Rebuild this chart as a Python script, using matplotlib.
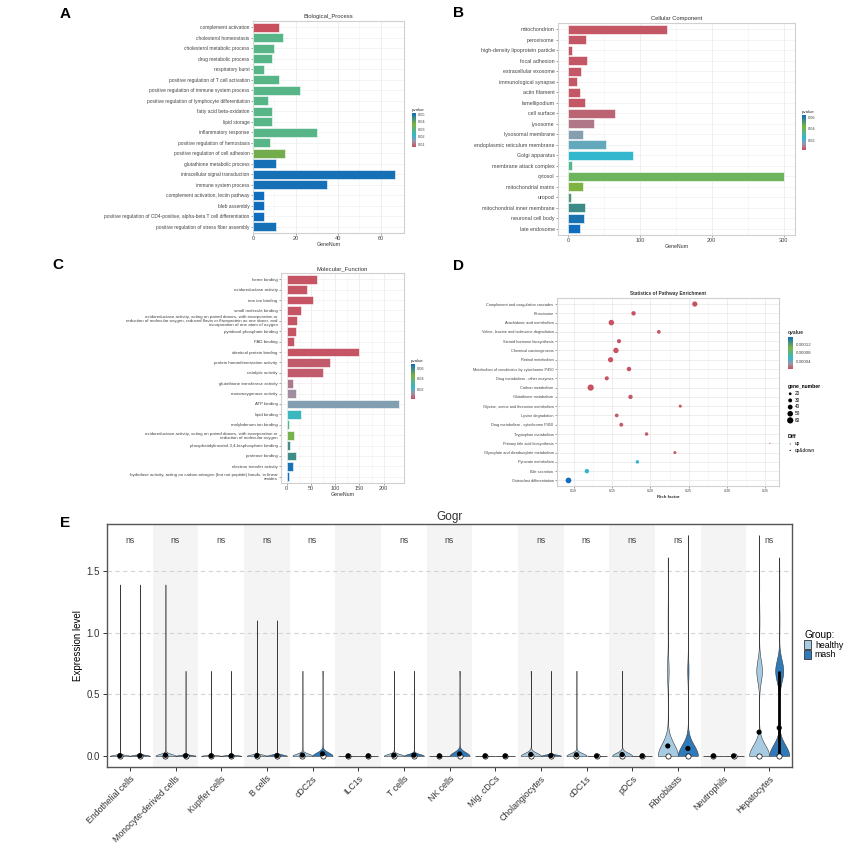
import numpy as np
import matplotlib
matplotlib.use("Agg")
import matplotlib.pyplot as plt
from matplotlib.colors import LinearSegmentedColormap, Normalize
from matplotlib.cm import ScalarMappable
from matplotlib.patches import Patch

plt.rcParams['font.family'] = ['Liberation Sans', 'DejaVu Sans']

# ---- A: GO biological process
bp_terms = ['complement activation', 'cholesterol homeostasis', 'cholesterol metabolic process',
            'drug metabolic process', 'respiratory burst', 'positive regulation of T cell activation',
            'positive regulation of immune system process',
            'positive regulation of lymphocyte differentiation', 'fatty acid beta-oxidation',
            'lipid storage', 'inflammatory response', 'positive regulation of hemostasis',
            'positive regulation of cell adhesion', 'glutathione metabolic process',
            'intracellular signal transduction', 'immune system process',
            'complement activation, lectin pathway', 'bleb assembly',
            'positive regulation of CD4-positive, alpha-beta T cell differentiation',
            'positive regulation of stress fiber assembly']
bp_genes = [12, 14, 10, 9, 5, 12, 22, 7, 9, 9, 30, 8, 15, 11, 67, 35, 5, 5, 5, 11]
bp_pvalue = [0.006, 0.029, 0.029, 0.029, 0.029, 0.029, 0.029, 0.029, 0.029, 0.029,
             0.029, 0.029, 0.038, 0.051, 0.051, 0.051, 0.052, 0.052, 0.052, 0.051]

# ---- B: GO cellular component
cc_terms = ['mitochondrion', 'peroxisome', 'high-density lipoprotein particle', 'focal adhesion',
            'extracellular exosome', 'immunological synapse', 'actin filament', 'lamellipodium',
            'cell surface', 'lysosome', 'lysosomal membrane', 'endoplasmic reticulum membrane',
            'Golgi apparatus', 'membrane attack complex', 'cytosol', 'mitochondrial matrix',
            'uropod', 'mitochondrial inner membrane', 'neuronal cell body', 'late endosome']
cc_genes = [138, 25, 6, 26, 18, 12, 17, 24, 65, 36, 21, 53, 90, 5, 301, 21, 4, 24, 22, 16]
cc_pvalue = [0.003, 0.003, 0.003, 0.003, 0.003, 0.003, 0.003, 0.003, 0.005, 0.008,
             0.015, 0.018, 0.023, 0.033, 0.040, 0.044, 0.052, 0.056, 0.063, 0.065]

# ---- C: GO molecular function
mf_terms = ['heme binding', 'oxidoreductase activity', 'iron ion binding', 'small molecule binding',
            'oxidoreductase activity, acting on paired donors, with incorporation or\n'
            'reduction of molecular oxygen, reduced flavin or flavoprotein as one donor, and\n'
            'incorporation of one atom of oxygen',
            'pyridoxal phosphate binding', 'FAD binding', 'identical protein binding',
            'protein homodimerization activity', 'catalytic activity',
            'glutathione transferase activity', 'monooxygenase activity', 'ATP binding',
            'lipid binding', 'molybdenum ion binding',
            'oxidoreductase activity, acting on paired donors, with incorporation or\n'
            'reduction of molecular oxygen',
            'phosphatidylinositol-3,4-bisphosphate binding', 'protease binding',
            'electron transfer activity',
            'hydrolase activity, acting on carbon-nitrogen (but not peptide) bonds, in linear\namides']
mf_genes = [62, 42, 54, 30, 22, 20, 15, 150, 89, 75, 12, 19, 231, 29, 5, 15, 7, 18, 12, 5]
mf_pvalue = [0.002, 0.002, 0.002, 0.002, 0.002, 0.002, 0.002, 0.002, 0.003, 0.003,
             0.008, 0.011, 0.015, 0.026, 0.034, 0.044, 0.058, 0.058, 0.066, 0.068]

# ---- D: KEGG enrichment
kegg_terms = ['Complement and coagulation cascades', 'Peroxisome', 'Arachidonic acid metabolism',
              'Valine, leucine and isoleucine degradation', 'Steroid hormone biosynthesis',
              'Chemical carcinogenesis', 'Retinol metabolism',
              'Metabolism of xenobiotics by cytochrome P450', 'Drug metabolism - other enzymes',
              'Carbon metabolism', 'Glutathione metabolism',
              'Glycine, serine and threonine metabolism', 'Lysine degradation',
              'Drug metabolism - cytochrome P450', 'Tryptophan metabolism',
              'Primary bile acid biosynthesis', 'Glyoxylate and dicarboxylate metabolism',
              'Pyruvate metabolism', 'Bile secretion', 'Osteoclast differentiation']
kegg_rich = [0.258, 0.178, 0.149, 0.211, 0.159, 0.155, 0.148, 0.172, 0.143, 0.122,
             0.174, 0.239, 0.156, 0.162, 0.195, 0.356, 0.232, 0.183, 0.117, 0.093]
kegg_genes = [45, 35, 50, 28, 32, 48, 45, 36, 32, 60, 35, 22, 28, 30, 26, 12, 22, 26, 36, 52]
kegg_qvalue = [3e-6, 4e-6, 4e-6, 5e-6, 5e-6, 4e-6, 4e-6, 5e-6, 6e-6, 3e-6,
               6e-6, 7e-6, 7e-6, 7e-6, 8e-6, 9e-6, 9e-6, 5.4e-5, 5.8e-5, 1.57e-4]

# ---- E: Gogr expression per cell type
cell_types = ['Endothelial cells', 'Monocyte-derived cells', 'Kupffer cells', 'B cells', 'cDC2s',
              'ILC1s', 'T cells', 'NK cells', 'Mig. cDCs', 'Cholangiocytes', 'cDC1s', 'pDCs',
              'Fibroblasts', 'Neutrophils', 'Hepatocytes']
expr_levels = [0.0, 0.69, 1.10, 1.39, 1.61, 1.79]
# number of cells at each expression level
healthy_counts = [[3000, 6, 0, 1, 0, 0], [1500, 10, 0, 1, 0, 0], [2500, 4, 0, 0, 0, 0],
                  [1500, 4, 1, 0, 0, 0], [800, 8, 0, 0, 0, 0], [60, 0, 0, 0, 0, 0],
                  [1200, 10, 0, 0, 0, 0], [300, 0, 0, 0, 0, 0], [40, 0, 0, 0, 0, 0],
                  [600, 10, 0, 0, 0, 0], [600, 8, 0, 0, 0, 0], [500, 8, 0, 0, 0, 0],
                  [120, 10, 2, 0, 1, 0], [80, 0, 0, 0, 0, 0], [780, 220, 25, 10, 3, 1]]
mash_counts = [[3000, 6, 0, 1, 0, 0], [2000, 5, 0, 0, 0, 0], [2500, 4, 0, 0, 0, 0],
               [1500, 4, 1, 0, 0, 0], [800, 20, 0, 0, 0, 0], [50, 0, 0, 0, 0, 0],
               [1200, 10, 0, 0, 0, 0], [500, 12, 0, 0, 0, 0], [40, 0, 0, 0, 0, 0],
               [1500, 6, 0, 0, 0, 0], [60, 0, 0, 0, 0, 0], [50, 0, 0, 0, 0, 0],
               [130, 8, 1, 0, 0, 1], [120, 0, 0, 0, 0, 0], [700, 280, 20, 8, 2, 0]]
sig_labels = ['ns', 'ns', 'ns', 'ns', 'ns', '', 'ns', 'ns', '', 'ns', 'ns', 'ns', 'ns', '', 'ns']

cmap = LinearSegmentedColormap.from_list(
    'go', [(0, '#c8505f'), (0.17, '#9a97a8'), (0.333, '#33b7cf'), (0.667, '#7cb342'), (1, '#106cbd')])

W, H = 859, 851
fig = plt.figure(figsize=(W / 100, H / 100), dpi=100)


def rect(x0, y0, x1, y1):
    return [x0 / W, 1 - y1 / H, (x1 - x0) / W, (y1 - y0) / H]


def style_gg(ax):
    ax.grid(which='major', color='#e8e8e8', lw=0.5)
    ax.grid(which='minor', color='#f3f3f3', lw=0.4)
    ax.set_axisbelow(True)
    for s in ax.spines.values():
        s.set_color('#d0d0d0')
        s.set_linewidth(0.8)
    ax.tick_params(which='major', length=1.5, width=0.4, color='#555555', pad=1, labelcolor='#444444')
    ax.tick_params(which='minor', length=0)


def go_bar(box, cbox, title, terms, genes, pvals, vmin, vmax, xlim, xticks, cticks, fs):
    ax = fig.add_axes(rect(*box))
    norm = Normalize(vmin, vmax)
    y = np.arange(len(terms))
    ax.barh(y, genes, height=0.85, color=cmap(norm(np.array(pvals))),
            edgecolor='white', linewidth=0.4, zorder=3)
    ax.set_yticks(y, terms)
    for lab in ax.get_yticklabels():
        lab.set_fontsize(fs)
        lab.set_multialignment('right')
        lab.set_linespacing(0.95)
    ax.set_ylim(len(terms) - 0.4, -0.6)
    ax.set_xlim(*xlim)
    ax.set_xticks(xticks)
    ax.set_xticks((np.array(xticks[:-1]) + np.array(xticks[1:])) / 2, minor=True)
    ax.tick_params(axis='x', labelsize=4)
    ax.yaxis.set_tick_params(which='minor', length=0)
    style_gg(ax)
    ax.grid(axis='y', which='major', color='#eeeeee', lw=0.5)
    ax.set_title(title, fontsize=4.2, pad=2, color='#333333')
    ax.set_xlabel('GeneNum', fontsize=3.8, labelpad=0.5, color='#333333')
    cax = fig.add_axes(rect(*cbox))
    cb = fig.colorbar(ScalarMappable(norm, cmap), cax=cax, ticks=cticks)
    cb.outline.set_visible(False)
    cax.tick_params(labelsize=2.8, length=0, pad=1.5, labelcolor='#444444')
    cax.set_title('pvalue', fontsize=3.2, loc='left', pad=1.5, color='#333333')
    return ax


go_bar((253, 21, 404, 233), (412, 113, 416, 147), 'Biological_Process', bp_terms, bp_genes,
       bp_pvalue, 0.006, 0.052, (0, 71), [0, 20, 40, 60], [0.01, 0.02, 0.03, 0.04, 0.05], 3.5)
go_bar((558, 23, 795, 235), (802, 115, 806, 150), 'Cellular Component', cc_terms, cc_genes,
       cc_pvalue, 0.002, 0.065, (-14, 316), [0, 100, 200, 300], [0.02, 0.04, 0.06], 3.8)
go_bar((281, 273, 404, 483), (411, 364, 415, 399), 'Molecular_Function', mf_terms, mf_genes,
       mf_pvalue, 0.001, 0.068, (-12, 242), [0, 50, 100, 150, 200], [0.02, 0.04, 0.06], 3.2)

# ---- D: KEGG bubble plot
def gsize(g):
    return np.clip(np.asarray(g, dtype=float) - 10, 0.5, None) * 0.4


axd = fig.add_axes(rect(557, 298, 779, 486))
qnorm = Normalize(min(kegg_qvalue), max(kegg_qvalue))
yk = np.arange(len(kegg_terms))
axd.scatter(kegg_rich, yk, s=gsize(kegg_genes), c=kegg_qvalue, cmap=cmap, norm=qnorm,
            edgecolors='none', zorder=3)
axd.set_yticks(yk, kegg_terms, fontsize=2.8)
axd.set_ylim(len(kegg_terms) - 0.4, -0.65)
xt = [0.10, 0.15, 0.20, 0.25, 0.30, 0.35]
axd.set_xlim(0.078, 0.368)
axd.set_xticks(xt, ['0.10', '0.15', '0.20', '0.25', '0.30', '0.35'])
axd.set_xticks(np.array(xt[:-1]) + 0.025, minor=True)
axd.tick_params(axis='x', labelsize=2.6)
style_gg(axd)
axd.set_title('Statistics of Pathway Enrichment', fontsize=3.4, pad=2, fontweight='bold', color='#333333')
axd.set_xlabel('Rich factor', fontsize=3.2, labelpad=1, fontweight='bold', color='#333333')

caxd = fig.add_axes(rect(788, 337, 793, 369))
cbd = fig.colorbar(ScalarMappable(qnorm, cmap), cax=caxd, ticks=[0.00004, 0.00008, 0.00012])
cbd.outline.set_visible(False)
caxd.set_yticklabels(['0.00004', '0.00008', '0.00012'])
caxd.tick_params(labelsize=3.2, length=0, pad=2, labelcolor='#444444')
caxd.set_title('qvalue', fontsize=3.6, loc='left', pad=2, fontweight='bold', color='#333333')

legend_genes = [20, 30, 40, 50, 60]
gh = [axd.scatter([], [], s=gsize(g), c='black', edgecolors='none') for g in legend_genes]
fig.legend(gh, [str(g) for g in legend_genes], title='gene_number', loc='upper left',
           bbox_to_anchor=(785 / W, 1 - 382 / H), frameon=False, fontsize=3.4,
           title_fontproperties={'size': 3.6, 'weight': 'bold'}, labelspacing=0.35,
           handletextpad=0.4, borderpad=0, alignment='left', handlelength=1.2)
diff_labels = ['up', 'up&down']
dh = [axd.scatter([], [], s=0.8, c='black', marker=m, edgecolors='none') for m in ['^', 'o']]
fig.legend(dh, diff_labels, title='Diff', loc='upper left', bbox_to_anchor=(785 / W, 1 - 432 / H),
           frameon=False, fontsize=3.4, title_fontproperties={'size': 3.6, 'weight': 'bold'},
           labelspacing=0.35, handletextpad=0.4, borderpad=0, alignment='left', handlelength=1.2)

# ---- E: violin plot
axe = fig.add_axes(rect(107, 524, 792, 767))
col_healthy, col_mash = '#a8cbe4', '#2f7ab9'
pos = np.arange(len(cell_types))
for i in pos:
    if i % 2 == 1:
        axe.axvspan(i - 0.5, i + 0.5, color='#f4f4f4', lw=0, zorder=0)
for yg in [0.5, 1.0, 1.5]:
    axe.axhline(yg, color='#d4d4d4', lw=0.8, ls=(0, (4, 3)), zorder=1)

for counts, off, col in [(healthy_counts, -0.22, col_healthy), (mash_counts, 0.22, col_mash)]:
    for i, cnt in enumerate(counts):
        data = np.repeat(expr_levels, cnt)
        p = i + off
        if data.max() > 0:
            parts = axe.violinplot(data, positions=[p], widths=0.44, showextrema=False,
                                   bw_method='scott', points=400)
            for b in parts['bodies']:
                b.set_facecolor(col)
                b.set_edgecolor('#3a3a3a')
                b.set_linewidth(0.4)
                b.set_alpha(1)
                b.set_zorder(2)
        else:
            axe.hlines(0, p - 0.22, p + 0.22, color='#3a3a3a', lw=0.6, zorder=2)
        q1, med, q3 = np.percentile(data, [25, 50, 75])
        if q3 > q1:
            axe.vlines(p, q1, q3, color='black', lw=2.0, zorder=4)
        axe.scatter([p], [med], s=14, c='white', edgecolors='black', linewidths=0.5, zorder=5)
        axe.scatter([p], [data.mean()], s=14, c='black', edgecolors='none', zorder=6)

for i, lab in enumerate(sig_labels):
    if lab:
        axe.text(i, 1.75, lab, ha='center', va='center', fontsize=6.3, color='#444444')

axe.set_xlim(-0.5, len(cell_types) - 0.5)
axe.set_ylim(-0.09, 1.88)
axe.set_xticks(pos, cell_types, rotation=45, ha='right', rotation_mode='anchor', fontsize=6.3)
axe.set_yticks([0, 0.5, 1.0, 1.5], ['0.0', '0.5', '1.0', '1.5'], fontsize=7)
axe.tick_params(length=3, width=0.7, color='#333333', labelcolor='#333333', pad=2)
for s in axe.spines.values():
    s.set_color('#555555')
    s.set_linewidth(1.0)
axe.set_ylabel('Expression level', fontsize=7, labelpad=3)
axe.set_title('Gogr', fontsize=8.5, pad=3, color='#333333')
fig.legend([Patch(facecolor=col_healthy, edgecolor='#333333', lw=0.6),
            Patch(facecolor=col_mash, edgecolor='#333333', lw=0.6)], ['healthy', 'mash'],
           title='Group:', loc='upper left', bbox_to_anchor=(800 / W, 1 - 626 / H), frameon=False,
           fontsize=6.3, title_fontsize=7.2, handlelength=0.8, handleheight=1.2,
           handletextpad=0.4, labelspacing=0.0, borderpad=0, alignment='left')

# panel letters
for letter, (lx, ly) in zip('ABCDE', [(65, 14), (458, 13), (58, 265), (458, 266), (65, 523)]):
    fig.text(lx / W, 1 - ly / H, letter, fontsize=11, fontweight='bold', ha='center', va='center')

fig.savefig('out.png', dpi=100)
